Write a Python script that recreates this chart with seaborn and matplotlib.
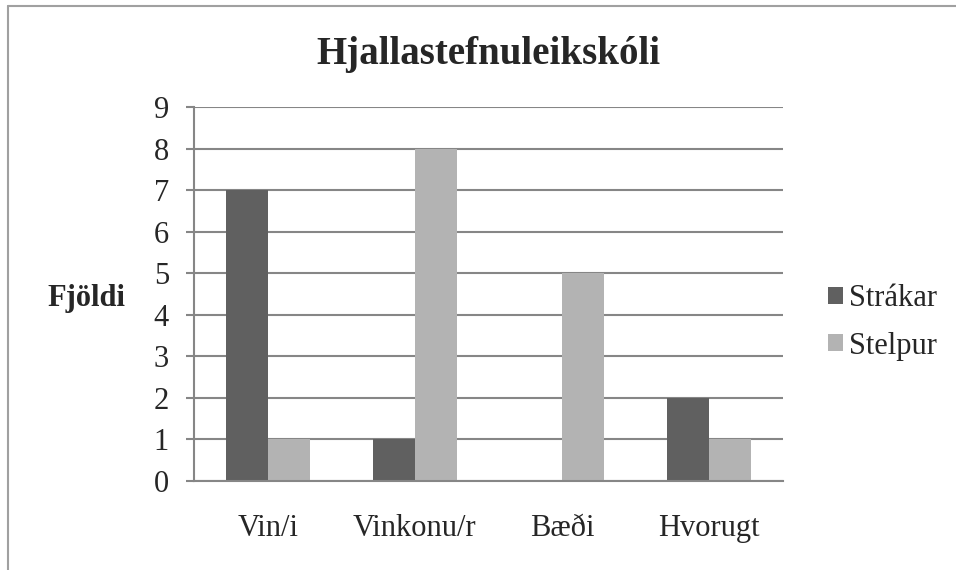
import matplotlib
matplotlib.use("Agg")
import matplotlib.pyplot as plt
from matplotlib.lines import Line2D
import seaborn as sns
import pandas as pd

# data
categories = ["Vin/i", "Vinkonu/r", "Bæði", "Hvorugt"]
strakar = [7, 1, 0, 2]
stelpur = [1, 8, 5, 1]
series_names = ["Strákar", "Stelpur"]
colors = ["#606060", "#b3b3b3"]

df = pd.DataFrame({
    "cat": categories * 2,
    "val": strakar + stelpur,
    "hue": [series_names[0]] * 4 + [series_names[1]] * 4,
})

sns.set_style("white")
plt.rcParams["font.family"] = ["Liberation Serif", "DejaVu Serif"]

fig = plt.figure(figsize=(9.56, 5.7), dpi=100)
ax = fig.add_axes([194 / 956, 1 - 481 / 570, 589 / 956, 374 / 570])

sns.barplot(data=df, x="cat", y="val", hue="hue", palette=colors,
            width=0.57, gap=0, saturation=1, linewidth=0, ax=ax)

grid_c = "#868686"
ax.set_ylim(0, 9)
ax.set_xlim(-0.5, 3.5)
ax.set_yticks(range(0, 10))
ax.yaxis.grid(True, color=grid_c, linewidth=1.5)
ax.set_axisbelow(True)
for s in ["top", "right"]:
    ax.spines[s].set_visible(False)
for s in ["left", "bottom"]:
    ax.spines[s].set_color(grid_c)
    ax.spines[s].set_linewidth(1.5)

ax.set_xticks([-0.5, 0.5, 1.5, 2.5, 3.5], minor=True)
ax.tick_params(axis="x", which="minor", length=6, width=1.5, color=grid_c, direction="out")
ax.tick_params(axis="x", which="major", length=0, pad=24, labelsize=22)
ax.tick_params(axis="y", length=6, width=1.5, color=grid_c, direction="out", pad=12, labelsize=22, left=True)

ax.set_xlabel("")
ax.set_ylabel("Fjöldi", fontsize=22, fontweight="bold", rotation=0, ha="right", va="center")
ax.yaxis.set_label_coords(-0.117, 0.489)
ax.set_title("Hjallastefnuleikskóli", fontsize=28, fontweight="bold", pad=31)

handles, labels = ax.get_legend_handles_labels()
leg = ax.legend(handles, labels, loc="center left", bbox_to_anchor=(1.076, 0.424),
                frameon=False, fontsize=22, handlelength=0.5, handleheight=0.5,
                handletextpad=0.2, labelspacing=0.6, borderpad=0, borderaxespad=0)

# outer chart border (only left and top visible in the reference)
fig.add_artist(Line2D([8 / 956, 8 / 956], [0, 1 - 6 / 570], color="#a0a0a0", linewidth=1.5))
fig.add_artist(Line2D([8 / 956, 1], [1 - 6 / 570, 1 - 6 / 570], color="#a0a0a0", linewidth=1.5))

fig.savefig("out.png", dpi=100)
